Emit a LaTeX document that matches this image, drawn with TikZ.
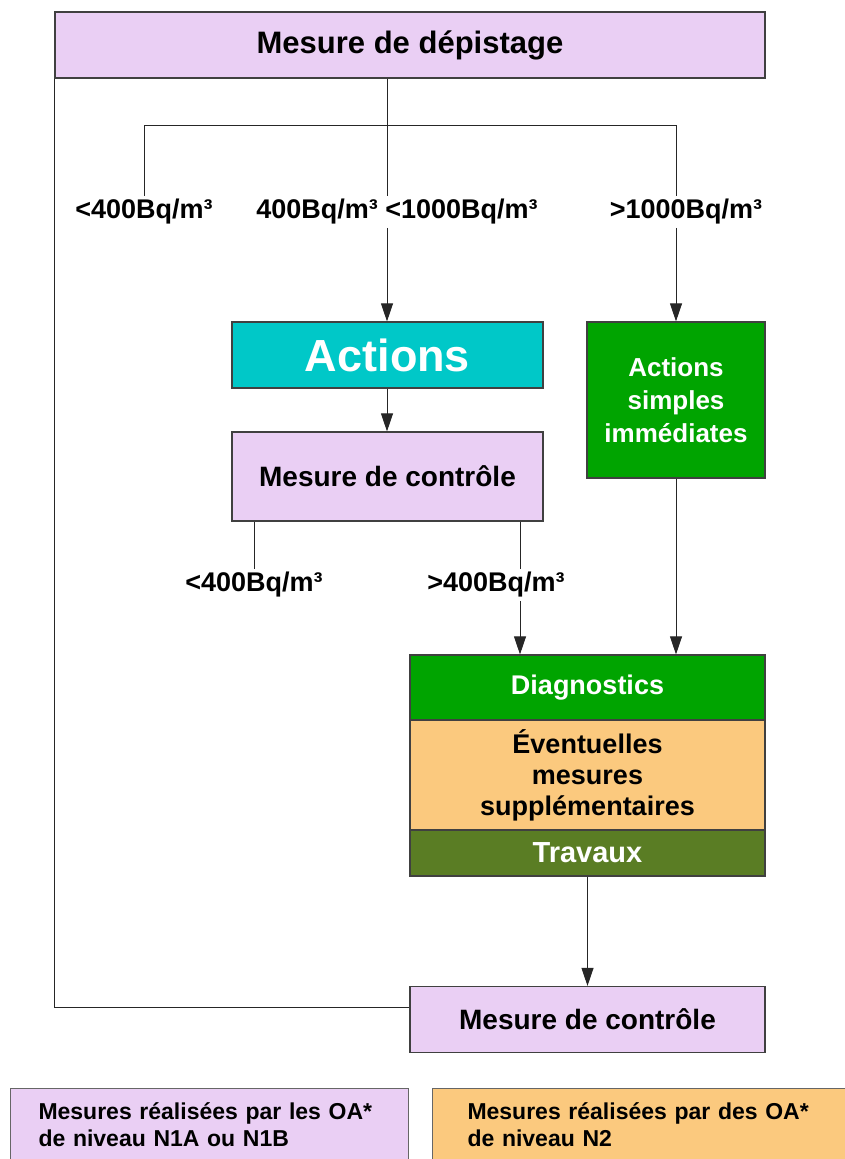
\documentclass[tikz,border=0pt]{standalone}
\usepackage{fontspec}
\setmainfont{Liberation Sans}
\usetikzlibrary{arrows.meta}

\definecolor{mauve}{HTML}{EACFF4}
\definecolor{turquoise}{HTML}{00C8C8}
\definecolor{vertvif}{HTML}{00A400}
\definecolor{vertolive}{HTML}{5A7D24}
\definecolor{orangepale}{HTML}{FBC97E}

\begin{document}
\begin{tikzpicture}[x=1pt, y=-1pt, >={Triangle[length=18pt,width=12pt]},
    boite/.style={draw=black!75, line width=1.2pt, inner sep=0pt, align=center},
    seuil/.style={inner sep=3pt, font=\bfseries\fontsize{27}{30}\selectfont},
    lien/.style={black!85, line width=0.9pt},
    legende/.style={draw=black!60, line width=1pt, anchor=north west, inner xsep=28pt,
        inner ysep=14pt, align=left, font=\bfseries\fontsize{23}{27}\selectfont}]
    \useasboundingbox (0,0) rectangle (845,1159);
    \clip (0,0) rectangle (845,1159);

    % ===== DEPISTAGE =====
    \node[boite, fill=mauve, minimum width=710pt, minimum height=66pt,
        font=\bfseries\fontsize{31}{36}\selectfont] (depist) at (410,45) {Mesure de dépistage};

    \coordinate (fourche) at (387,125);
    \node[seuil] (l1) at (144,212) {<400Bq/m³};
    \node[seuil] (l2) at (397,212) {400Bq/m³ <1000Bq/m³};
    \node[seuil] (l3) at (686,212) {>1000Bq/m³};

    % ===== ACTIONS =====
    \node[boite, fill=turquoise, text=white, minimum width=311pt, minimum height=66pt,
        font=\bfseries\fontsize{45}{50}\selectfont] (actions) at (387.5,355) {Actions};
    \node[boite, fill=mauve, minimum width=311pt, minimum height=89pt,
        font=\bfseries\fontsize{28}{32}\selectfont] (controle1) at (387.5,476.5) {Mesure de contrôle};
    \node[boite, fill=vertvif, text=white, minimum width=178pt, minimum height=156pt,
        font=\bfseries\fontsize{26}{33}\selectfont] (simples) at (676,400) {Actions\\simples\\immédiates};

    \coordinate (passe) at (520,585);
    \node[seuil] (l4) at (254,585) {<400Bq/m³};
    \node[seuil] (l5) at (496,585) {>400Bq/m³};

    % ===== DIAGNOSTICS / TRAVAUX =====
    \node[boite, fill=vertvif, text=white, minimum width=355pt, minimum height=65pt,
        font=\bfseries\fontsize{27}{32}\selectfont] (diag) at (587.5,687.5) {Diagnostics};
    \node[boite, fill=orangepale, minimum width=355pt, minimum height=110pt,
        font=\bfseries\fontsize{27}{31}\selectfont] (eventuel) at (587.5,775.5) {Éventuelles\\mesures\\supplémentaires};
    \node[boite, fill=vertolive, text=white, minimum width=355pt, minimum height=46pt,
        font=\bfseries\fontsize{29}{32}\selectfont] (travaux) at (587.5,853) {Travaux};
    \node[boite, fill=mauve, minimum width=355pt, minimum height=66pt,
        font=\bfseries\fontsize{28}{32}\selectfont] (controle2) at (587.5,1019.5) {Mesure de contrôle};

    % liens
    \draw[lien] (depist.south -| fourche) -- (fourche |- l2.north);
    \draw[lien] (fourche -| l1) -- (fourche -| simples);
    \draw[lien] (fourche -| l1) -- (l1.north);
    \draw[lien] (fourche -| simples) -- (simples |- l3.north);
    \draw[lien, ->] (fourche |- l2.south) -- (actions.north -| fourche);
    \draw[lien, ->] (simples |- l3.south) -- (simples.north);
    \draw[lien, ->] (actions.south -| fourche) -- (controle1.north -| fourche);
    \draw[lien] (controle1.south -| l4) -- (l4.north);
    \draw[lien] (controle1.south -| passe) -- (passe |- l5.north);
    \draw[lien, ->] (passe |- l5.south) -- (diag.north -| passe);
    \draw[lien, ->] (simples.south) -- (diag.north -| simples);
    \draw[lien, ->] (travaux.south) -- (controle2.north);
    \draw[lien] (depist.south west) |- ([yshift=12pt]controle2.west);

    % ===== LEGENDE =====
    \node[legende, fill=mauve, text width=342pt] (leg1) at (10,1088)
        {Mesures réalisées par les OA*\\de niveau N1A ou N1B\\[30pt]};
    \node[legende, fill=orangepale, inner xsep=35pt, text width=360pt] (leg2) at (432,1088)
        {Mesures réalisées par des OA*\\de niveau N2\\[30pt]};
\end{tikzpicture}
\end{document}
